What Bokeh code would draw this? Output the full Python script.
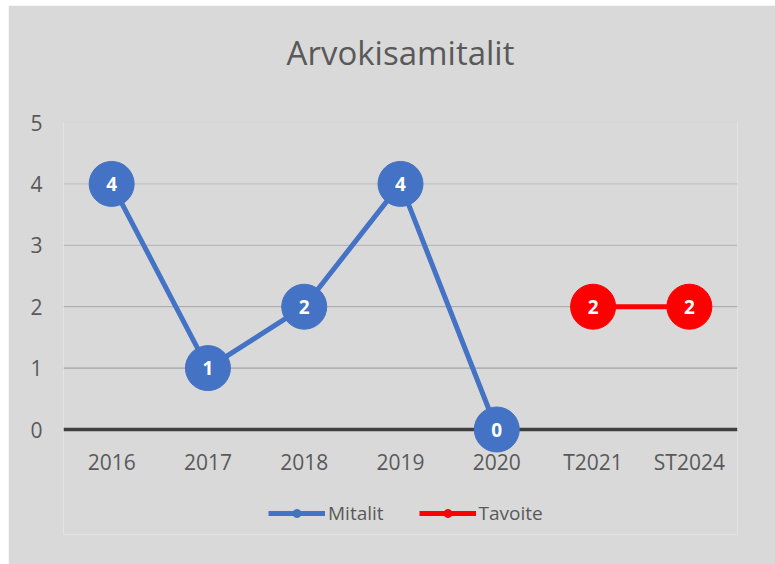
from bokeh.plotting import figure
from bokeh.models import (Range1d, FactorRange, FixedTicker, Span, Legend, LegendItem,
                          ColumnDataSource, Title)
from bokeh.core.properties import value
from bokeh.embed import file_html
from bokeh.resources import INLINE

categories = ["2016", "2017", "2018", "2019", "2020", "T2021", "ST2024"]
mitalit = [4, 1, 2, 4, 0, None, None]
tavoite = [None, None, None, None, None, 2, 2]
y_ticks = [0, 1, 2, 3, 4, 5]

BLUE = "#4472C4"
RED = "#FF0000"
BG = "#D9D9D9"
FONT = "Open Sans"
GRID_COLORS = ["#969696", "#A3A3A3", "#B0B0B0", "#BDBDBD", "#CACACA"]  # for y = 1..5

p = figure(width=767, height=559, x_range=FactorRange(*categories),
           y_range=Range1d(-1.71, 5), output_backend="svg", toolbar_location=None,
           min_border_left=55, min_border_right=38, min_border_top=117, min_border_bottom=30)
p.styles = {"margin-left": "8px", "margin-top": "5px"}
p.background_fill_color = BG
p.border_fill_color = BG
p.outline_line_color = None

# blank spacer between the frame and the title (inner panel item)
p.add_layout(Title(text=" ", text_font=FONT, text_font_size="30px", text_color=BG,
                   standoff=0), "above")

p.title = Title(text="Arvokisamitalit", align="center", text_font=FONT,
                text_font_size="33px", text_font_style="normal", text_color="#595959",
                standoff=10)

# axes
p.yaxis.ticker = FixedTicker(ticks=y_ticks)
p.yaxis.axis_line_color = None
p.yaxis.major_tick_line_color = None
p.yaxis.minor_tick_line_color = None
p.yaxis.major_label_standoff = 15
p.yaxis.major_label_text_font = FONT
p.yaxis.major_label_text_font_size = "21px"
p.yaxis.major_label_text_color = "#595959"

p.xaxis.fixed_location = -0.3
p.xaxis.axis_line_color = None
p.xaxis.major_tick_line_color = None
p.xaxis.major_tick_out = 0
p.xaxis.major_tick_in = 0
p.xaxis.major_label_standoff = 0
p.xaxis.major_label_text_font = FONT
p.xaxis.major_label_text_font_size = "21px"
p.xaxis.major_label_text_color = "#595959"

p.xgrid.grid_line_color = None
p.ygrid.grid_line_color = None
for t, c in zip(y_ticks[1:], GRID_COLORS):
    p.add_layout(Span(location=t, dimension="width", line_color=c, line_width=1,
                      level="underlay"))

zero = Span(location=0, dimension="width", line_color="#404040", line_width=3.5, level="underlay")
p.add_layout(zero)

def nanify(vals):
    return [float("nan") if v is None else v for v in vals]

def series(vals, color):
    line_r = p.line(x=categories, y=nanify(vals), line_color=color, line_width=5)
    xs = [c for c, v in zip(categories, vals) if v is not None]
    ys = [v for v in vals if v is not None]
    src = ColumnDataSource(dict(x=xs, y=ys, t=[str(v) for v in ys]))
    sc = p.scatter(x="x", y="y", source=src, size=45, fill_color=color, line_color=color)
    p.text(x="x", y="y", text="t", source=src, text_color="white", text_font=value(FONT),
           text_font_size="19px", text_font_style="bold", text_align="center",
           text_baseline="middle")
    return line_r, sc

m_line, m_sc = series(mitalit, BLUE)
t_line, t_sc = series(tavoite, RED)

legend = Legend(items=[LegendItem(label="Mitalit", renderers=[m_line, m_sc]),
                       LegendItem(label="Tavoite", renderers=[t_line, t_sc])],
                orientation="horizontal", location=(205, 8),
                glyph_width=57, glyph_height=20, label_standoff=3, spacing=35,
                label_text_font=FONT, label_text_font_size="19px", label_text_color="#595959",
                background_fill_alpha=0, border_line_color=None, margin=0, padding=4)
p.add_layout(legend, "center")

open("out.html", "w").write(file_html(p, INLINE))
